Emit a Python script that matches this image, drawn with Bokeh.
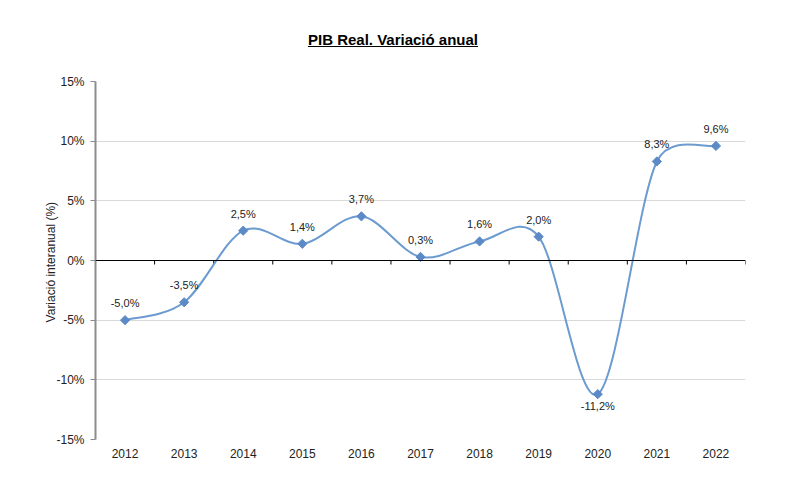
import math
from bokeh.plotting import figure
from bokeh.models import FixedTicker, Span, Div, ColumnDataSource
from bokeh.layouts import column
from bokeh.core.properties import value
from bokeh.embed import file_html
from bokeh.resources import INLINE

# ---- data ----
years = ["2012", "2013", "2014", "2015", "2016", "2017", "2018", "2019", "2020", "2021", "2022"]
growth = [-5.0, -3.5, 2.5, 1.4, 3.7, 0.3, 1.6, 2.0, -11.2, 8.3, 9.6]
y_ticks = [-15, -10, -5, 0, 5, 10, 15]
title_text = "PIB Real. Variació anual"
y_title = "Variació  interanual (%)"

FONT = "Liberation Sans"
LINE_C = "#6c9bd0"
MARK_C = "#5b8ac6"

W, H_DIV, H_FIG = 786, 58, 417
BL, BR, BT, BB = 95, 41, 23, 36
frame_w = W - BL - BR
frame_h = H_FIG - BT - BB

n = len(years)
xs = list(range(n))

p = figure(width=W, height=H_FIG, x_range=(-0.5, n - 0.5), y_range=(y_ticks[0], y_ticks[-1]),
           output_backend="svg", toolbar_location=None,
           min_border_left=BL, min_border_right=BR, min_border_top=BT, min_border_bottom=BB)
p.outline_line_color = None
p.background_fill_color = "white"
p.border_fill_color = "white"

# grid
p.xgrid.grid_line_color = None
p.ygrid.grid_line_color = "#d9d9d9"
p.ygrid.grid_line_width = 1
p.ygrid.ticker = FixedTicker(ticks=y_ticks)

# y axis
ya = p.yaxis[0]
ya.ticker = FixedTicker(ticks=y_ticks)
ya.major_label_overrides = {t: f"{t}%" for t in y_ticks}
ya.axis_line_color = "#8c8c8c"
ya.axis_line_width = 2
ya.major_tick_line_color = "#8c8c8c"
ya.major_tick_in = 0
ya.major_tick_out = 5
ya.minor_tick_line_color = None
ya.major_label_text_font = FONT
ya.major_label_text_font_size = "12px"
ya.major_label_text_color = "#222222"
ya.major_label_standoff = 6
ya.axis_label = y_title
ya.axis_label_text_font = FONT
ya.axis_label_text_font_size = "12px"
ya.axis_label_text_font_style = "normal"
ya.axis_label_text_color = "#222222"
ya.axis_label_standoff = -5

# x axis (labels only)
xa = p.xaxis[0]
xa.ticker = FixedTicker(ticks=xs)
xa.major_label_overrides = {i: y for i, y in enumerate(years)}
xa.axis_line_color = None
xa.major_tick_line_color = None
xa.minor_tick_line_color = None
xa.major_label_text_font = FONT
xa.major_label_text_font_size = "12px"
xa.major_label_text_color = "#222222"
xa.major_label_standoff = 3

# zero line with category-boundary ticks
p.add_layout(Span(location=0, dimension="width", line_color="black", line_width=1))
bounds = [i - 0.5 for i in range(n + 1)]
tick_len = 4 * (y_ticks[-1] - y_ticks[0]) / frame_h
p.segment(x0=bounds, y0=[0] * len(bounds), x1=bounds, y1=[-tick_len] * len(bounds),
          line_color="black", line_width=1)

# smoothed line (Excel-like bezier) computed in pixel space
sx = frame_w / n
sy = frame_h / (y_ticks[-1] - y_ticks[0])
pts = [(x * sx, v * sy) for x, v in zip(xs, growth)]

def arm(pa, pb, limit):
    ax, ay = (pb[0] - pa[0]) / 6.0, (pb[1] - pa[1]) / 6.0
    L = math.hypot(ax, ay)
    if L > limit and L > 0:
        ax, ay = ax * limit / L, ay * limit / L
    return ax, ay

bx0, by0, bx1, by1, cx0, cy0, cx1, cy1 = [], [], [], [], [], [], [], []
for i in range(n - 1):
    p0 = pts[max(i - 1, 0)]
    p1 = pts[i]
    p2 = pts[i + 1]
    p3 = pts[min(i + 2, n - 1)]
    d12 = math.hypot(p2[0] - p1[0], p2[1] - p1[1])
    a1 = arm(p0, p2, d12 / 2)
    a2 = arm(p1, p3, d12 / 2)
    bx0.append(p1[0] / sx); by0.append(p1[1] / sy)
    bx1.append(p2[0] / sx); by1.append(p2[1] / sy)
    cx0.append((p1[0] + a1[0]) / sx); cy0.append((p1[1] + a1[1]) / sy)
    cx1.append((p2[0] - a2[0]) / sx); cy1.append((p2[1] - a2[1]) / sy)

p.bezier(x0=bx0, y0=by0, x1=bx1, y1=by1, cx0=cx0, cy0=cy0, cx1=cx1, cy1=cy1,
         line_color=LINE_C, line_width=2)

# markers
p.scatter(x=xs, y=growth, marker="square", angle=math.pi / 4, size=6.5,
          fill_color=MARK_C, line_color=MARK_C)

# data labels
labels = [f"{v:.1f}%".replace(".", ",") for v in growth]
vmin = min(growth)
offs = [12 if v == vmin else -17 for v in growth]
src = ColumnDataSource(dict(x=xs, y=growth, t=labels, o=offs))
p.text(x="x", y="y", text="t", y_offset="o", source=src, text_align="center",
       text_baseline="middle", text_font=value(FONT), text_font_size="11px",
       text_color="#222222")

title = Div(text=f'<div style="width:{W}px;text-align:center;padding-top:29px;'
                 f'font-family:\'{FONT}\',Arial,sans-serif;font-size:15px;font-weight:bold;'
                 f'text-decoration:underline;color:#000;">{title_text}</div>',
            width=W, height=H_DIV, margin=0)

layout = column(title, p, spacing=0)
open("out.html", "w").write(file_html(layout, INLINE))
